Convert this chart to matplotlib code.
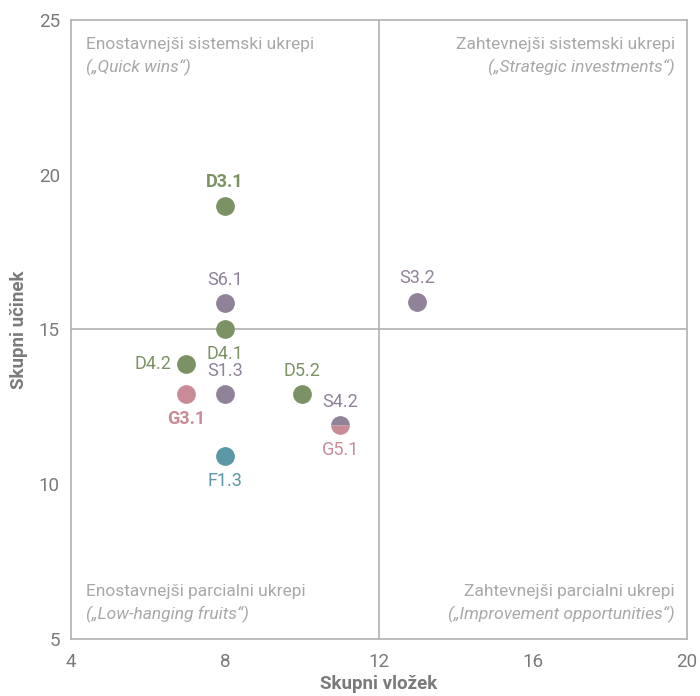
import matplotlib

matplotlib.use("Agg")
import matplotlib.pyplot as plt

plt.rcParams["font.family"] = ["Roboto", "DejaVu Sans"]

# measures: name, effort (x), impact (y)
names = ["D3.1", "S6.1", "D4.1", "D4.2", "G3.1", "S1.3", "D5.2", "S4.2", "G5.1", "F1.3", "S3.2"]
effort = [8, 8, 8, 7, 7, 8, 10, 11, 11, 8, 13]
impact = [19, 15.85, 15, 13.9, 12.9, 12.9, 12.9, 11.9, 11.9, 10.9, 15.9]
groups = ["D", "S", "D", "D", "G", "S", "D", "S", "G", "F", "S"]
label_pos = ["above", "above", "below", "left", "below", "above", "above", "above", "below", "below", "above"]
bold_labels = ["D3.1", "G3.1"]

colors = {"D": "#7b9264", "S": "#8f8299", "G": "#c98c97", "F": "#5b97a4"}
grey_text = "#a8a8a8"
grey_line = "#b0b0b0"

fig = plt.figure(figsize=(7, 6.96), dpi=100)
ax = fig.add_axes([0.1014, 0.0819, 0.88, 0.8894])
ax.set_xlim(4, 20)
ax.set_ylim(5, 25)
ax.set_xticks([4, 8, 12, 16, 20])
ax.set_yticks([5, 10, 15, 20, 25])
ax.tick_params(length=0, labelsize=13.5, colors="#7a7a7a")
ax.tick_params(axis="x", pad=10)
ax.tick_params(axis="y", pad=8)
for s in ax.spines.values():
    s.set_color(grey_line)
    s.set_linewidth(1.2)

ax.axvline(12, color=grey_line, lw=1.2, zorder=1)
ax.axhline(15, color=grey_line, lw=1.2, zorder=1)

ax.set_xlabel("Skupni vložek", fontsize=13.5, fontweight="bold", color="#7a7a7a", labelpad=3)
ax.set_ylabel("Skupni učinek", fontsize=13.5, fontweight="bold", color="#7a7a7a", labelpad=8)

# quadrant captions
qfs = 12.5
ax.text(0.025, 0.96, "Enostavnejši sistemski ukrepi", transform=ax.transAxes,
        ha="left", va="center", fontsize=qfs, color=grey_text)
ax.text(0.025, 0.923, "(„Quick wins“)", transform=ax.transAxes,
        ha="left", va="center", fontsize=qfs, color=grey_text, style="italic")
ax.text(0.98, 0.96, "Zahtevnejši sistemski ukrepi", transform=ax.transAxes,
        ha="right", va="center", fontsize=qfs, color=grey_text)
ax.text(0.98, 0.923, "(„Strategic investments“)", transform=ax.transAxes,
        ha="right", va="center", fontsize=qfs, color=grey_text, style="italic")
ax.text(0.025, 0.077, "Enostavnejši parcialni ukrepi", transform=ax.transAxes,
        ha="left", va="center", fontsize=qfs, color=grey_text)
ax.text(0.025, 0.04, "(„Low-hanging fruits“)", transform=ax.transAxes,
        ha="left", va="center", fontsize=qfs, color=grey_text, style="italic")
ax.text(0.98, 0.077, "Zahtevnejši parcialni ukrepi", transform=ax.transAxes,
        ha="right", va="center", fontsize=qfs, color=grey_text)
ax.text(0.98, 0.04, "(„Improvement opportunities“)", transform=ax.transAxes,
        ha="right", va="center", fontsize=qfs, color=grey_text, style="italic")

# points; S4.2 and G5.1 share a position -> half/half marker
drawn = set()
for i, name in enumerate(names):
    key = (effort[i], impact[i])
    twins = [j for j in range(len(names)) if (effort[j], impact[j]) == key]
    if key not in drawn:
        if len(twins) == 2:
            ax.plot(effort[i], impact[i], "o", ms=13.5, fillstyle="top",
                    markerfacecolor=colors[groups[twins[0]]],
                    markerfacecoloralt=colors[groups[twins[1]]],
                    markeredgewidth=0, zorder=3)
        else:
            ax.plot(effort[i], impact[i], "o", ms=13.5, color=colors[groups[i]],
                    markeredgewidth=0, zorder=3)
        drawn.add(key)

    pos = label_pos[i]
    if pos == "above":
        off, ha = (0, 17), "center"
    elif pos == "below":
        off, ha = (0, -17.5), "center"
    else:
        off, ha = (-11, 0), "right"
    ax.annotate(name, (effort[i], impact[i]), xytext=off, textcoords="offset points",
                ha=ha, va="center", fontsize=13, color=colors[groups[i]],
                fontweight="bold" if name in bold_labels else "normal")

fig.savefig("out.png", dpi=100)
